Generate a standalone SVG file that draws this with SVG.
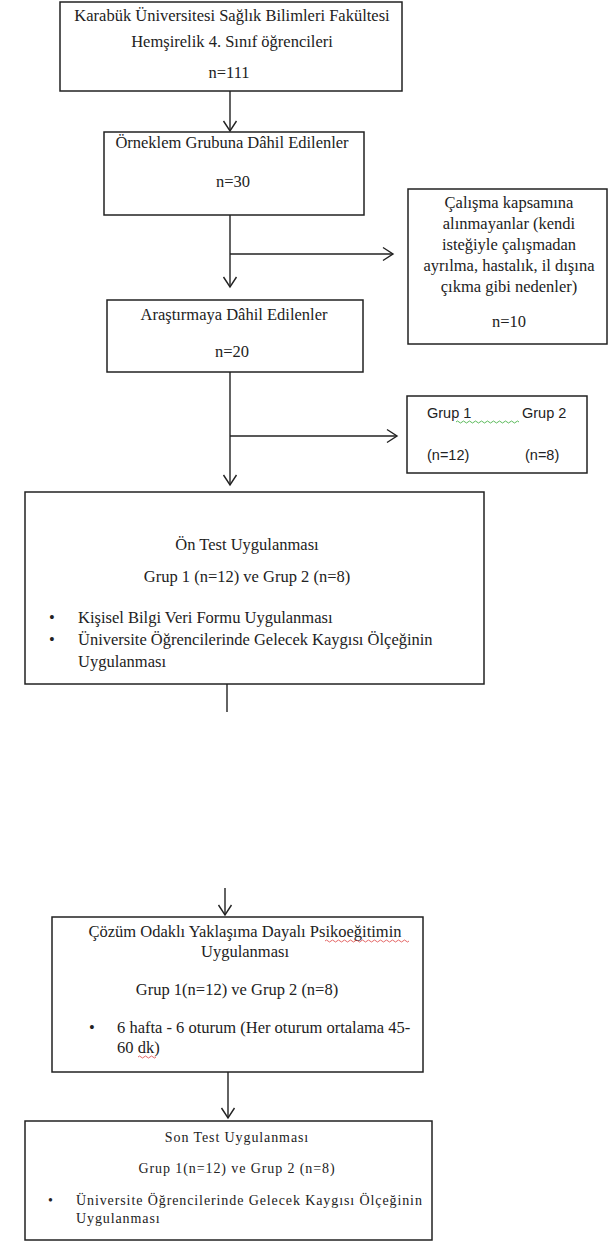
<svg xmlns="http://www.w3.org/2000/svg" width="609" height="1249" viewBox="0 0 609 1249">
<style>
.box{fill:#fff;stroke:#222;stroke-width:1.5}
.t{font-family:"Liberation Serif","Times New Roman",serif;font-size:16.5px;fill:#222}
.c{text-anchor:middle}
.s{font-family:"Liberation Sans",Arial,sans-serif;font-size:14.5px;fill:#222}
.sm{font-family:"Liberation Serif","Times New Roman",serif;font-size:14px;letter-spacing:0.9px;fill:#222}
.ln{stroke:#222;stroke-width:1.4;fill:none}
.wr{stroke:#d44;stroke-width:0.8;fill:none}
.wg{stroke:#3a3;stroke-width:0.8;fill:none}
</style>
<defs>
<marker id="arr" markerUnits="userSpaceOnUse" markerWidth="14" markerHeight="16" viewBox="-11 -8 13 16" refX="0" refY="0" orient="auto">
<path d="M-10,-6.5 L0,0 L-10,6.5" fill="none" stroke="#222" stroke-width="1.4"/>
</marker>
</defs>
<rect width="609" height="1249" fill="#fff"/>
<g id="connectors">
<line class="ln" x1="230" y1="91" x2="230" y2="131" marker-end="url(#arr)"/>
<line class="ln" x1="230" y1="215" x2="230" y2="287" marker-end="url(#arr)"/>
<line class="ln" x1="230" y1="254" x2="393" y2="254" marker-end="url(#arr)"/>
<line class="ln" x1="230" y1="372" x2="230" y2="485" marker-end="url(#arr)"/>
<line class="ln" x1="230" y1="436" x2="397" y2="436" marker-end="url(#arr)"/>
<line class="ln" x1="227" y1="684" x2="227" y2="712"/>
<line class="ln" x1="225" y1="888" x2="225" y2="915" marker-end="url(#arr)"/>
<line class="ln" x1="228" y1="1072" x2="228" y2="1118" marker-end="url(#arr)"/>
</g>
<g id="n1">
<rect class="box" x="60" y="2" width="342" height="89"/>
<text class="t c" x="232" y="21">Karabük Üniversitesi Sağlık Bilimleri  Fakültesi</text>
<text class="t c" x="232" y="47">Hemşirelik 4. Sınıf öğrencileri</text>
<text class="t c" x="229" y="78">n=111</text>
</g>
<g id="n2">
<rect class="box" x="104" y="132" width="260" height="83"/>
<text class="t c" x="232" y="148">Örneklem Grubuna Dâhil Edilenler</text>
<text class="t c" x="233" y="187">n=30</text>
</g>
<g id="n3">
<rect class="box" x="107" y="300" width="256" height="72"/>
<text class="t c" x="234" y="320">Araştırmaya Dâhil Edilenler</text>
<text class="t c" x="232" y="357">n=20</text>
</g>
<g id="n4">
<rect class="box" x="408" y="189" width="199" height="155"/>
<text class="t c" x="509" y="208">Çalışma kapsamına</text>
<text class="t c" x="509" y="229">alınmayanlar (kendi</text>
<text class="t c" x="509" y="250">isteğiyle çalışmadan</text>
<text class="t c" x="509" y="271">ayrılma, hastalık, il dışına</text>
<text class="t c" x="509" y="292">çıkma gibi nedenler)</text>
<text class="t c" x="509" y="327">n=10</text>
</g>
<g id="n5">
<rect class="box" x="407" y="396" width="180" height="77"/>
<text class="s" x="427" y="418">Grup 1</text>
<text class="s" x="522" y="418">Grup 2</text>
<path class="wg" d="M456,422 q1.5,-2 3,0 t3,0 t3,0 t3,0 t3,0 t3,0 t3,0 t3,0 t3,0 t3,0 t3,0 t3,0 t3,0 t3,0 t3,0 t3,0 t3,0 t3,0 t3,0 t3,0 t3,0"/>
<text class="s" x="427" y="460">(n=12)</text>
<text class="s" x="525" y="460">(n=8)</text>
</g>
<g id="n6">
<rect class="box" x="25" y="492" width="459" height="192"/>
<text class="t c" x="247" y="550">Ön Test Uygulanması</text>
<text class="t c" x="247" y="582">Grup 1 (n=12) ve Grup 2 (n=8)</text>
<text class="t" x="49" y="623">•</text>
<text class="t" x="78" y="623">Kişisel Bilgi Veri Formu Uygulanması</text>
<text class="t" x="49" y="645">•</text>
<text class="t" x="78" y="645">Üniversite Öğrencilerinde Gelecek Kaygısı Ölçeğinin</text>
<text class="t" x="78" y="667">Uygulanması</text>
</g>
<g id="n7">
<rect class="box" x="52" y="917" width="371" height="155"/>
<text class="t c" x="245" y="937">Çözüm Odaklı Yaklaşıma Dayalı Psikoeğitimin</text>
<path class="wr" d="M325,941 q1.5,-2 3,0 t3,0 t3,0 t3,0 t3,0 t3,0 t3,0 t3,0 t3,0 t3,0 t3,0 t3,0 t3,0 t3,0 t3,0 t3,0 t3,0 t3,0 t3,0 t3,0 t3,0 t3,0 t3,0 t3,0 t3,0 t3,0 t3,0 t3,0"/>
<text class="t c" x="245" y="957">Uygulanması</text>
<text class="t c" x="237" y="995">Grup 1(n=12) ve Grup 2 (n=8)</text>
<text class="t" x="89" y="1033">•</text>
<text class="t" x="117" y="1033">6 hafta - 6 oturum (Her oturum ortalama  45-</text>
<text class="t" x="117" y="1053">60 dk)</text>
<path class="wr" d="M138,1057 q1.5,-2 3,0 t3,0 t3,0 t3,0 t3,0 t3,0"/>
</g>
<g id="n8">
<rect class="box" x="25" y="1121" width="407" height="119"/>
<text class="sm c" x="237" y="1142">Son Test Uygulanması</text>
<text class="sm c" x="237" y="1173">Grup 1(n=12) ve Grup 2 (n=8)</text>
<text class="sm" x="48" y="1205">•</text>
<text class="sm" x="76" y="1205">Üniversite Öğrencilerinde Gelecek Kaygısı Ölçeğinin</text>
<text class="sm" x="76" y="1223">Uygulanması</text>
</g>
</svg>
